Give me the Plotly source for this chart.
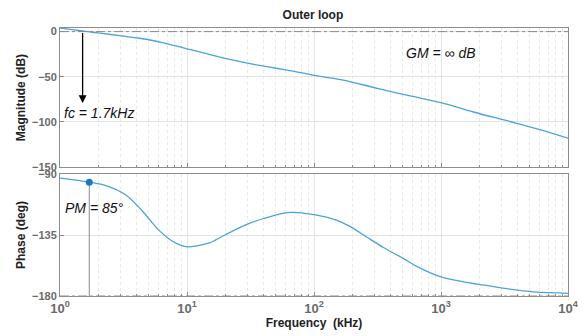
import plotly.graph_objects as go

# Data
freq_mag = [1.0, 1.26, 1.6, 2.0, 2.5, 3.16, 4.0, 5.0, 6.3, 8.0, 10.0, 13.0, 16.0, 20.5, 30.0, 48.0, 70.0, 112.0, 170.0, 315.0, 560.0, 1000.0, 1800.0, 3550.0, 6000.0, 10000.0]
mag_db = [4.0, 2.1, 0.2, -1.5, -3.2, -5.0, -6.9, -9.0, -12.0, -15.5, -19.0, -23.0, -26.3, -30.0, -35.0, -40.0, -44.0, -49.5, -53.6, -62.9, -71.0, -78.7, -89.0, -99.8, -108.5, -118.0]

freq_ph = [1.0, 1.3, 1.7, 2.3, 3.3, 4.5, 6.0, 7.8, 10.0, 12.0, 15.0, 20.0, 30.0, 40.0, 65.0, 100.0, 150.0, 195.0, 260.0, 355.0, 500.0, 655.0, 1000.0, 1500.0, 2200.0, 3500.0, 5400.0, 10000.0]
phase_deg = [-93.0, -94.3, -96.0, -98.5, -105.4, -117.8, -131.4, -140.0, -143.7, -143.0, -140.8, -134.8, -127.0, -122.8, -118.3, -120.0, -124.0, -129.0, -136.5, -144.4, -152.0, -158.5, -165.9, -169.5, -172.0, -175.0, -177.0, -178.0]

pm_freq = 1.7
pm_phase = -96.0

major_ticks = [1, 10, 100, 1000, 10000]
major_text = ["10<sup>0</sup>", "10<sup>1</sup>", "10<sup>2</sup>", "10<sup>3</sup>", "10<sup>4</sup>"]
minor_ticks = [m * 10 ** k for k in range(4) for m in range(2, 10)]
mag_ticks = [0, -50, -100, -150]
ph_ticks = [-90, -135, -180]

LINE = "#4da3d8"
GRID = "#e3e3e3"
AX = "#8c8c8c"
TXT = "#6a6a6a"
FONT = "Liberation Sans"

fig = go.Figure()
fig.add_trace(go.Scatter(x=freq_mag, y=mag_db, mode="lines", line=dict(color=LINE, width=1.3, shape="spline", smoothing=1.0),
                         xaxis="x", yaxis="y", showlegend=False))
fig.add_trace(go.Scatter(x=freq_ph, y=phase_deg, mode="lines", line=dict(color=LINE, width=1.3, shape="spline", smoothing=1.0),
                         xaxis="x2", yaxis="y2", showlegend=False))
# reference lines
fig.add_trace(go.Scatter(x=[1, 10000], y=[0, 0], mode="lines", line=dict(color="#8a8a8a", width=1, dash="dashdot"),
                         xaxis="x", yaxis="y", showlegend=False))
fig.add_trace(go.Scatter(x=[1, 10000], y=[-180, -180], mode="lines", line=dict(color="#8a8a8a", width=1, dash="dashdot"),
                         xaxis="x2", yaxis="y2", showlegend=False))
# PM marker & vertical line
fig.add_trace(go.Scatter(x=[pm_freq, pm_freq], y=[pm_phase, -180], mode="lines", line=dict(color="#8a8a8a", width=1),
                         xaxis="x2", yaxis="y2", showlegend=False))
fig.add_trace(go.Scatter(x=[pm_freq], y=[pm_phase], mode="markers", marker=dict(color="#1f77c4", size=7),
                         xaxis="x2", yaxis="y2", showlegend=False))

xcommon = dict(type="log", range=[0, 4], showline=True, linecolor=AX, mirror=True, ticks="inside", ticklen=4,
               tickcolor=AX, showgrid=True, gridcolor=GRID, zeroline=False, tickvals=major_ticks, automargin=False,
               minor=dict(tickvals=minor_ticks, showgrid=True, gridcolor="#e8e8e8", griddash="dot", ticks="inside",
                          ticklen=2, tickcolor=AX))
ycommon = dict(showline=True, linecolor=AX, mirror=True, ticks="inside", ticklen=4, tickcolor=AX,
               showgrid=True, gridcolor=GRID, zeroline=False, automargin=False,
               tickfont=dict(family=FONT, size=11, color=TXT, weight="bold"))
ytitle_font = dict(family=FONT, size=12, color="#222", weight="bold")

fig.update_layout(
    width=586, height=336,
    margin=dict(l=60, r=18, t=28, b=40),
    paper_bgcolor="white", plot_bgcolor="white",
    font=dict(family=FONT, color=TXT),
    xaxis=dict(**xcommon, domain=[0, 1], anchor="y", showticklabels=False),
    yaxis=dict(**ycommon, domain=[0.481, 1], range=[-150, 4], tickvals=mag_ticks,
               title=dict(text="Magnitude (dB)", font=ytitle_font, standoff=3)),
    xaxis2=dict(**xcommon, domain=[0, 1], anchor="y2", ticktext=major_text,
                tickfont=dict(family=FONT, size=13, color=TXT, weight="bold"),
                title=dict(text="Frequency  (kHz)", font=ytitle_font, standoff=2)),
    yaxis2=dict(**ycommon, domain=[0, 0.455], range=[-180, -90], tickvals=ph_ticks,
                title=dict(text="Phase (deg)", font=ytitle_font, standoff=3)),
    title=dict(text="Outer loop", x=0.534, xanchor="center", y=1 - 15 / 336, yanchor="middle",
               font=dict(family=FONT, size=12, color="#222", weight="bold")),
)

fig.add_annotation(x=0.178, y=-79, ax=0.178, ay=0, xref="x", yref="y", axref="x", ayref="y",
                   showarrow=True, arrowhead=2, arrowsize=1.2, arrowwidth=1.3, arrowcolor="black", text="")
fig.add_annotation(x=0.012, y=-90, xref="x", yref="y", xanchor="left", yanchor="middle", showarrow=False,
                   text="<i>fc = 1.7kHz</i>", font=dict(family=FONT, size=14, color="#111"))
fig.add_annotation(x=2.71, y=-24, xref="x", yref="y", xanchor="left", yanchor="middle", showarrow=False,
                   text="<i>GM = ∞ dB</i>", font=dict(family=FONT, size=14, color="#111"))
fig.add_annotation(x=0.02, y=-114.8, xref="x2", yref="y2", xanchor="left", yanchor="middle", showarrow=False,
                   text="<i>PM = 85°</i>", font=dict(family=FONT, size=14, color="#111"))

fig.write_html("out.html", config={"displayModeBar": False},
               post_script="document.body.style.margin='0';document.body.style.overflow='hidden';")
